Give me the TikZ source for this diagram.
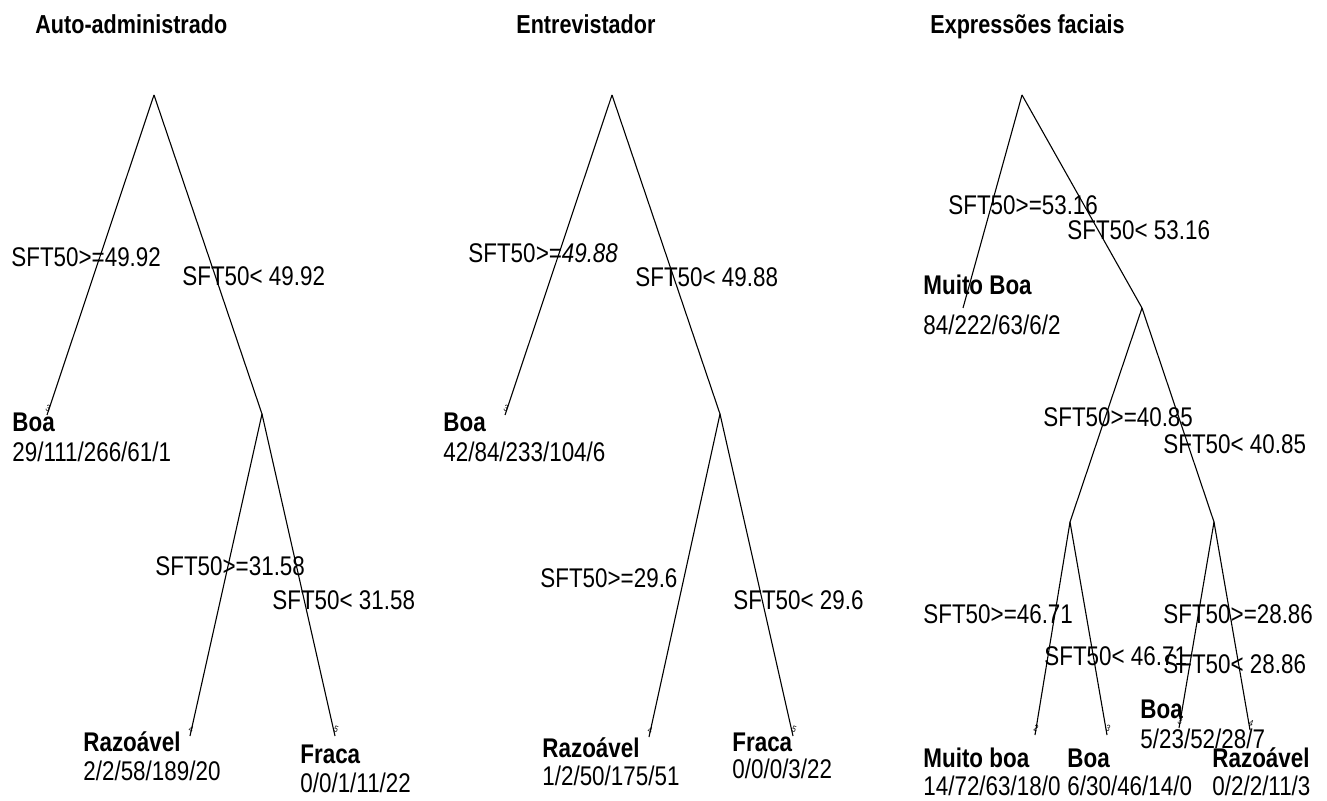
\documentclass[tikz,border=0pt]{standalone}
\usepackage{fontspec}
\setmainfont[FakeStretch=0.83]{Liberation Sans}
\usepackage{tikz}
\usetikzlibrary{positioning}
\tikzset{
  br/.style={line width=0.55pt,black},
  lab/.style={anchor=base west,inner sep=0pt,font=\fontsize{13.5}{16}\selectfont},
  cls/.style={lab,font=\fontsize{13.5}{16}\selectfont\bfseries},
  ttl/.style={lab,font=\fontsize{13}{16}\selectfont\bfseries},
  tag/.style={inner sep=0pt,font=\fontsize{4.5}{4.5}\selectfont,rotate=-20}
}
\begin{document}
\begin{tikzpicture}[x=0.5pt,y=-0.5pt]
\useasboundingbox (0,0) rectangle (1327,801);
% split points of the three trees
\coordinate (a1) at (154,95); \coordinate (a2) at (47,415); \coordinate (a3) at (262,414);
\coordinate (a6) at (190,736); \coordinate (a7) at (335,736);
\coordinate (b1) at (612,95); \coordinate (b2) at (505,415); \coordinate (b3) at (720,414);
\coordinate (b6) at (649,737); \coordinate (b7) at (793,736);
\coordinate (c1) at (1022,95); \coordinate (c2) at (963,308); \coordinate (c3) at (1142,308);
\coordinate (c6) at (1070,522); \coordinate (c7) at (1214,522);
\coordinate (c12) at (1035,735); \coordinate (c13) at (1107,735);
\coordinate (c14) at (1179,728); \coordinate (c15) at (1250,730);
\foreach \p/\q in {a1/a2,a1/a3,a3/a6,a3/a7,b1/b2,b1/b3,b3/b6,b3/b7,
  c1/c2,c1/c3,c3/c6,c3/c7,c6/c12,c6/c13,c7/c14,c7/c15}{\draw[br] (\p)--(\q);}
\foreach \p/\d in {a2/3,a6/4,a7/5,b2/3,b6/4,b7/5,c12/2,c13/3,c14/3,c15/4}{
  \node[tag,above=1.5pt of \p] (g\p) {\d};}
% titles
\node[ttl] (t1) at (35,34) {Auto-administrado};
\node[ttl] (t2) at (516,34) {Entrevistador};
\node[ttl] (t3) at (930,34) {Expressões faciais};
% tree 1
\node[lab] (sa1) at (11,267) {SFT50>=49.92};
\node[lab] (sa2) at (182,286) {SFT50< 49.92};
\node[lab] (sa3) at (155,575) {SFT50>=31.58};
\node[lab] (sa4) at (272,609) {SFT50< 31.58};
\node[cls] (la1) at (12,432) {Boa};
\node[lab] (na1) at (12,462) {29/111/266/61/1};
\node[cls] (la2) at (83,751) {Razoável};
\node[lab] (na2) at (83,780) {2/2/58/189/20};
\node[cls] (la3) at (300,763) {Fraca};
\node[lab] (na3) at (300,792) {0/0/1/11/22};
% tree 2
\node[lab] (sb1) at (468,263) {SFT50\textit{>=49.88}};
\node[lab] (sb2) at (635,287) {SFT50< 49.88};
\node[lab] (sb3) at (540,587) {SFT50>=29.6};
\node[lab] (sb4) at (733,609) {SFT50< 29.6};
\node[cls] (lb1) at (443,432) {Boa};
\node[lab] (nb1) at (443,462) {42/84/233/104/6};
\node[cls] (lb2) at (542,757) {Razoável};
\node[lab] (nb2) at (542,785) {1/2/50/175/51};
\node[cls] (lb3) at (732,751) {Fraca};
\node[lab] (nb3) at (732,778) {0/0/0/3/22};
% tree 3
\node[lab] (sc1) at (948,215) {SFT50>=53.16};
\node[lab] (sc2) at (1067,240) {SFT50< 53.16};
\node[lab] (sc3) at (1043,427) {SFT50>=40.85};
\node[lab] (sc4) at (1163,454) {SFT50< 40.85};
\node[lab] (sc5) at (923,623) {SFT50>=46.71};
\node[lab] (sc6) at (1044,665) {SFT50< 46.71};
\node[lab] (sc7) at (1163,623) {SFT50>=28.86};
\node[lab] (sc8) at (1163,673) {SFT50< 28.86};
\node[cls] (lc1) at (923,295) {Muito Boa};
\node[lab] (nc1) at (923,335) {84/222/63/6/2};
\node[cls] (lc2) at (923,767) {Muito boa};
\node[lab] (nc2) at (923,795) {14/72/63/18/0};
\node[cls] (lc3) at (1067,767) {Boa};
\node[lab] (nc3) at (1067,795) {6/30/46/14/0};
\node[cls] (lc4) at (1140,718) {Boa};
\node[lab] (nc4) at (1140,748) {5/23/52/28/7};
\node[cls] (lc5) at (1212,767) {Razoável};
\node[lab] (nc5) at (1212,795) {0/2/2/11/3};
\end{tikzpicture}
\end{document}
